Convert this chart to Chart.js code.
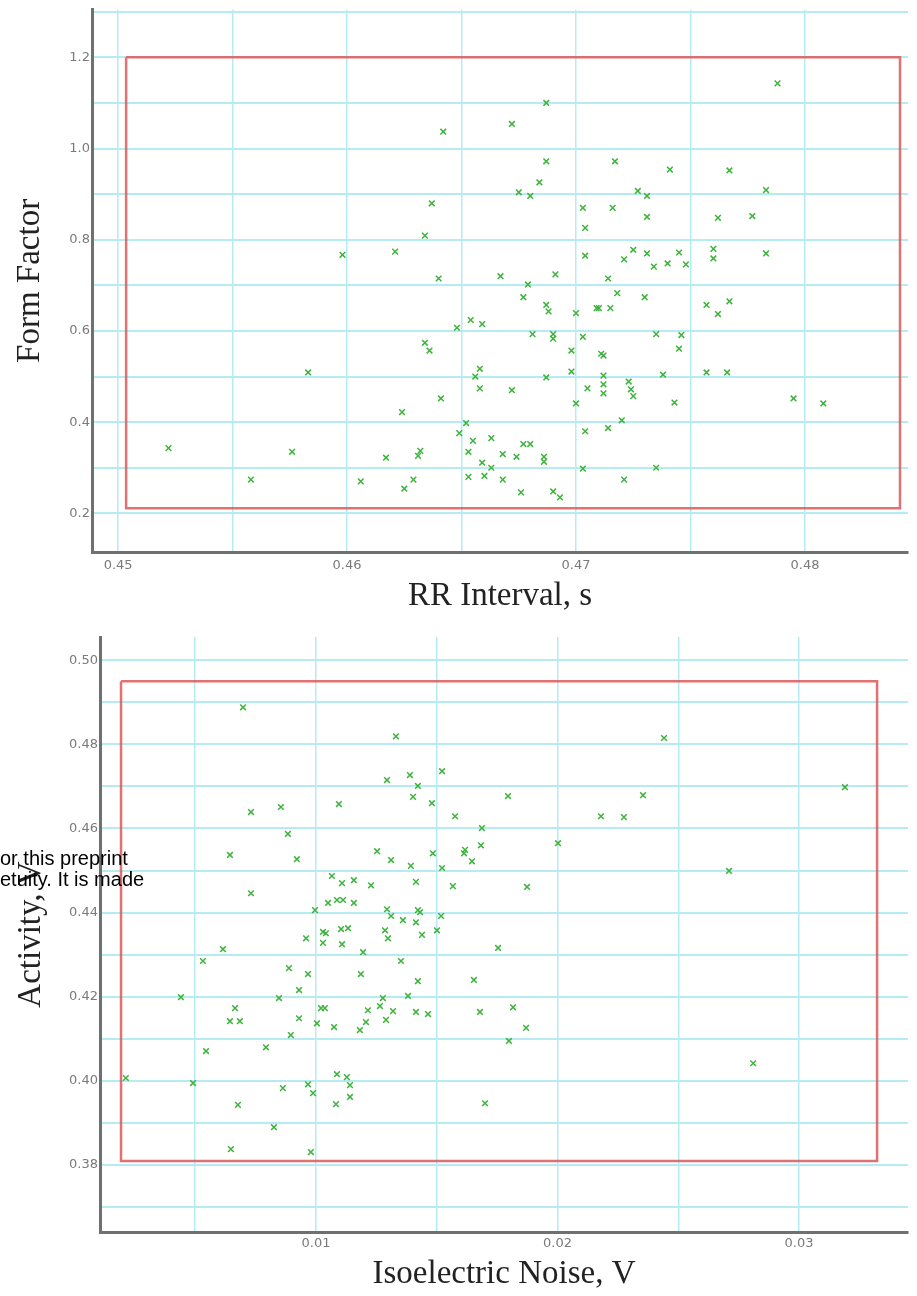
<!DOCTYPE html>
<html>
<head>
<meta charset="utf-8">
<script src="https://cdn.jsdelivr.net/npm/chart.js@4.4.1/dist/chart.umd.min.js"></script>
<style>
  html, body { margin: 0; padding: 0; background: #fff; }
  body { width: 917px; height: 1296px; position: relative; overflow: hidden; }
  .box { position: absolute; left: 0; width: 917px; }
  #top { top: 0; height: 620px; }
  #bottom { top: 620px; height: 676px; }
  #stamp {
    position: absolute; left: 0; top: 848px; z-index: 5;
    font: 20px "Liberation Sans", Arial, sans-serif; line-height: 21px; color: #000;
    white-space: nowrap;
  }
</style>
</head>
<body>
<div class="box" id="top"><canvas id="rrChart" width="917" height="620"></canvas></div>
<div class="box" id="bottom"><canvas id="noiseChart" width="917" height="676"></canvas></div>
<div id="stamp">or this preprint<br>etuity. It is made</div>
<script>
// --- top panel: RR interval vs form factor ---
const rrInterval = [
  0.4522, 0.4558, 0.4576, 0.4583, 0.4598, 0.4606, 0.4617, 0.4621, 0.4624, 0.4625,
  0.4629, 0.4631, 0.4632, 0.4634, 0.4634, 0.4636, 0.4637, 0.4640, 0.4641, 0.4642,
  0.4648, 0.4649, 0.4652, 0.4653, 0.4653, 0.4654, 0.4655, 0.4656, 0.4658, 0.4658,
  0.4659, 0.4660, 0.4659, 0.4663, 0.4663, 0.4667, 0.4668, 0.4668, 0.4672, 0.4672,
  0.4674, 0.4675, 0.4676, 0.4677, 0.4677, 0.4679, 0.4680, 0.4680, 0.4681, 0.4684,
  0.4686, 0.4686, 0.4687, 0.4687, 0.4687, 0.4688, 0.4687, 0.4690, 0.4690, 0.4690,
  0.4691, 0.4693, 0.4698, 0.4698, 0.4700, 0.4700, 0.4703, 0.4703, 0.4703, 0.4704,
  0.4704, 0.4704, 0.4705, 0.4709, 0.4710, 0.4711, 0.4712, 0.4712, 0.4712, 0.4712,
  0.4714, 0.4714, 0.4715, 0.4716, 0.4717, 0.4718, 0.4720, 0.4721, 0.4721, 0.4723,
  0.4724, 0.4725, 0.4725, 0.4727, 0.4730, 0.4731, 0.4731, 0.4731, 0.4734, 0.4735,
  0.4735, 0.4738, 0.4740, 0.4741, 0.4743, 0.4745, 0.4745, 0.4746, 0.4748, 0.4757,
  0.4757, 0.4760, 0.4760, 0.4762, 0.4762, 0.4767, 0.4767, 0.4766, 0.4777, 0.4783,
  0.4783, 0.4788, 0.4795, 0.4808
];
const formFactor = [
  0.343, 0.274, 0.335, 0.509, 0.767, 0.270, 0.322, 0.774, 0.422, 0.254,
  0.274, 0.326, 0.337, 0.809, 0.574, 0.557, 0.880, 0.715, 0.452, 1.037,
  0.607, 0.376, 0.398, 0.335, 0.280, 0.624, 0.359, 0.500, 0.517, 0.474,
  0.311, 0.282, 0.615, 0.365, 0.300, 0.720, 0.330, 0.274, 1.054, 0.470,
  0.324, 0.904, 0.246, 0.674, 0.352, 0.702, 0.352, 0.896, 0.593, 0.926,
  0.324, 0.313, 1.100, 0.972, 0.657, 0.643, 0.498, 0.248, 0.593, 0.583,
  0.724, 0.235, 0.557, 0.511, 0.639, 0.441, 0.587, 0.298, 0.870, 0.826,
  0.765, 0.380, 0.474, 0.650, 0.650, 0.550, 0.546, 0.502, 0.483, 0.463,
  0.715, 0.387, 0.650, 0.870, 0.972, 0.683, 0.404, 0.757, 0.274, 0.489,
  0.472, 0.778, 0.457, 0.907, 0.674, 0.896, 0.850, 0.770, 0.741, 0.593,
  0.300, 0.504, 0.748, 0.954, 0.443, 0.772, 0.561, 0.591, 0.746, 0.657,
  0.509, 0.780, 0.759, 0.848, 0.637, 0.952, 0.665, 0.509, 0.852, 0.909,
  0.770, 1.143, 0.452, 0.441
];
const rrTicks = [0.45, 0.455, 0.46, 0.465, 0.47, 0.475, 0.48];
const ffTicks = [0.2, 0.3, 0.4, 0.5, 0.6, 0.7, 0.8, 0.9, 1.0, 1.1, 1.2, 1.3];
const rrBoxX = [0.45035, 0.48415, 0.48415, 0.45035, 0.45035];
const rrBoxY = [1.2, 1.2, 0.211, 0.211, 1.2];

// --- bottom panel: isoelectric noise vs activity ---
const isoNoise = [
  0.00698, 0.01331, 0.02441, 0.01294, 0.01389, 0.01422, 0.01522, 0.01402, 0.01480, 0.01576,
  0.01095, 0.00855, 0.00731, 0.00884, 0.00644, 0.00921, 0.00731, 0.01795, 0.02354, 0.02180,
  0.02275, 0.01687, 0.02002, 0.01683, 0.01617, 0.01613, 0.01646, 0.03190, 0.02710, 0.01253,
  0.01311, 0.01393, 0.01484, 0.01522, 0.01066, 0.01108, 0.01157, 0.01228, 0.01414, 0.01567,
  0.01874, 0.00996, 0.01050, 0.01087, 0.01112, 0.01157, 0.01294, 0.01311, 0.01360, 0.01414,
  0.01422, 0.01431, 0.01518, 0.00959, 0.01029, 0.01041, 0.01029, 0.01104, 0.01133, 0.01108,
  0.01286, 0.01298, 0.01439, 0.01501, 0.00615, 0.00532, 0.01195, 0.01754, 0.01352, 0.00888,
  0.00967, 0.01186, 0.01422, 0.01654, 0.00441, 0.00847, 0.00930, 0.01277, 0.01381, 0.00665,
  0.00644, 0.00685, 0.00930, 0.01004, 0.01021, 0.01037, 0.01075, 0.01182, 0.01215, 0.01207,
  0.01265, 0.01290, 0.01319, 0.01414, 0.01464, 0.01679, 0.01816, 0.01870, 0.01799, 0.00896,
  0.00793, 0.00545, 0.00213, 0.00491, 0.01087, 0.01128, 0.01141, 0.01141, 0.00967, 0.00863,
  0.00988, 0.00677, 0.01083, 0.01700, 0.02810, 0.00826, 0.00648, 0.00979
];
const activity = [
  0.4888, 0.4819, 0.4815, 0.4715, 0.4727, 0.4701, 0.4736, 0.4675, 0.4660, 0.4629,
  0.4658, 0.4651, 0.4639, 0.4587, 0.4537, 0.4527, 0.4446, 0.4677, 0.4679, 0.4629,
  0.4627, 0.4601, 0.4565, 0.4560, 0.4549, 0.4541, 0.4522, 0.4698, 0.4499, 0.4546,
  0.4525, 0.4511, 0.4541, 0.4506, 0.4487, 0.4470, 0.4477, 0.4465, 0.4473, 0.4463,
  0.4461, 0.4406, 0.4423, 0.4430, 0.4430, 0.4423, 0.4408, 0.4392, 0.4382, 0.4377,
  0.4406, 0.4401, 0.4392, 0.4339, 0.4354, 0.4351, 0.4328, 0.4361, 0.4363, 0.4325,
  0.4358, 0.4339, 0.4347, 0.4358, 0.4313, 0.4285, 0.4306, 0.4316, 0.4285, 0.4268,
  0.4254, 0.4254, 0.4237, 0.4240, 0.4199, 0.4197, 0.4216, 0.4197, 0.4202, 0.4173,
  0.4142, 0.4142, 0.4149, 0.4137, 0.4173, 0.4173, 0.4128, 0.4121, 0.4168, 0.4140,
  0.4178, 0.4145, 0.4166, 0.4164, 0.4159, 0.4164, 0.4175, 0.4126, 0.4095, 0.4109,
  0.4080, 0.4071, 0.4007, 0.3995, 0.4016, 0.4009, 0.3990, 0.3962, 0.3992, 0.3983,
  0.3971, 0.3943, 0.3945, 0.3947, 0.4042, 0.3890, 0.3838, 0.3831
];
const noiseTicks = [0.005, 0.01, 0.015, 0.02, 0.025, 0.03];
const actTicks = [0.37, 0.38, 0.39, 0.40, 0.41, 0.42, 0.43, 0.44, 0.45, 0.46, 0.47, 0.48, 0.49, 0.50];
const noiseBoxX = [0.00193, 0.03323, 0.03323, 0.00193, 0.00193];
const noiseBoxY = [0.495, 0.495, 0.381, 0.381, 0.495];

const gridColor = '#b5ebf3';
const axisColor = '#707070';
const tickFont = { family: 'DejaVu Sans', size: 13 };
const titleFont = { family: 'Liberation Serif', size: 33 };

function pairs(xs, ys) {
  return xs.map((x, i) => ({ x: x, y: ys[i] }));
}

function fixTicks(values) {
  return scale => { scale.ticks = values.map(v => ({ value: v })); };
}

function makeChart(id, cfg) {
  return new Chart(document.getElementById(id), {
    type: 'scatter',
    data: {
      datasets: [{
        data: pairs(cfg.xs, cfg.ys),
        pointStyle: 'crossRot',
        pointRadius: 4,
        borderWidth: 1.5,
        borderColor: '#3cb43c',
        backgroundColor: '#3cb43c',
        order: 1
      }, {
        data: pairs(cfg.boxX, cfg.boxY),
        showLine: true,
        pointRadius: 0,
        borderColor: 'rgba(222, 88, 88, 0.85)',
        borderWidth: 2.5,
        order: 2
      }]
    },
    options: {
      responsive: false,
      animation: false,
      layout: { padding: { left: 0, right: 9, top: cfg.padTop, bottom: 0 } },
      plugins: { legend: { display: false }, tooltip: { enabled: false } },
      scales: {
        x: {
          type: 'linear',
          min: cfg.xMin, max: cfg.xMax,
          afterBuildTicks: fixTicks(cfg.xTicks),
          afterFit: s => { s.height = cfg.xHeight; },
          grid: { color: gridColor, lineWidth: 1.5, drawTicks: false },
          border: { color: axisColor, width: 3 },
          ticks: {
            autoSkip: false, maxRotation: 0, padding: cfg.xTickPad,
            color: '#7a7a7a', font: tickFont,
            callback: cfg.xLabel
          },
          title: {
            display: true, text: cfg.xTitle, color: '#222',
            font: titleFont, padding: { top: 0, bottom: cfg.xTitlePad }
          }
        },
        y: {
          type: 'linear',
          min: cfg.yMin, max: cfg.yMax,
          afterBuildTicks: fixTicks(cfg.yTicks),
          afterFit: s => { s.width = cfg.yWidth; },
          grid: { color: gridColor, lineWidth: 2, drawTicks: false },
          border: { color: axisColor, width: 3 },
          ticks: {
            autoSkip: false, padding: 2,
            color: '#7a7a7a', font: tickFont,
            callback: cfg.yLabel
          },
          title: {
            display: true, text: cfg.yTitle, color: '#222',
            font: titleFont, padding: { top: cfg.yTitlePad, bottom: 0 }
          }
        }
      }
    }
  });
}

makeChart('rrChart', {
  xs: rrInterval, ys: formFactor, boxX: rrBoxX, boxY: rrBoxY,
  xMin: 0.44886, xMax: 0.4845, yMin: 0.1152, yMax: 1.3043,
  xTicks: rrTicks, yTicks: ffTicks,
  padTop: 5, xHeight: 68, yWidth: 92, xTickPad: 6,
  xTitle: 'RR Interval, s', yTitle: 'Form Factor', xTitlePad: 4, yTitlePad: 11,
  xLabel: v => Math.abs(v * 100 - Math.round(v * 100)) < 1e-6 ? v.toFixed(2) : '',
  yLabel: v => Math.round(v * 10) % 2 === 0 ? v.toFixed(1) : ''
});

makeChart('noiseChart', {
  xs: isoNoise, ys: activity, boxX: noiseBoxX, boxY: noiseBoxY,
  xMin: 0.00106, xMax: 0.03451, yMin: 0.3641, yMax: 0.5055,
  xTicks: noiseTicks, yTicks: actTicks,
  padTop: 17, xHeight: 64, yWidth: 100, xTickPad: 4,
  xTitle: 'Isoelectric Noise, V', yTitle: 'Activity, V', xTitlePad: 2, yTitlePad: 12,
  xLabel: v => Math.round(v * 1000) % 10 === 0 ? v.toFixed(2) : '',
  yLabel: v => Math.round(v * 100) % 2 === 0 ? v.toFixed(2) : ''
});
</script>
</body>
</html>
